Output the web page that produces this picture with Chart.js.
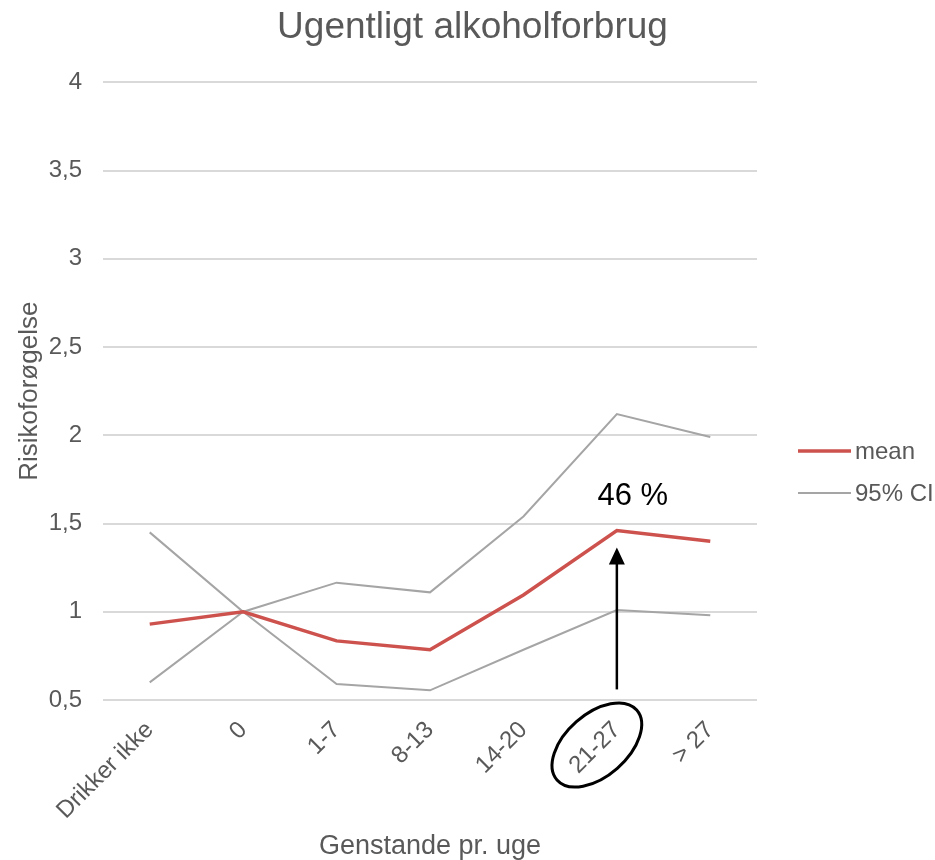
<!DOCTYPE html>
<html>
<head>
<meta charset="utf-8">
<script src="https://cdn.jsdelivr.net/npm/chart.js@4/dist/chart.umd.min.js"></script>
<style>
  body { margin: 0; background: #fff; }
  #wrap { width: 935px; height: 860px; }
</style>
</head>
<body>
<div id="wrap"><canvas id="myChart" width="935" height="860"></canvas></div>
<script>
const categories = ['Drikker ikke', '0', '1-7', '8-13', '14-20', '21-27', '> 27'];
const meanValues = [0.93, 1.0, 0.835, 0.785, 1.095, 1.46, 1.40];
const ciUpper = [1.45, 1.0, 1.165, 1.11, 1.54, 2.12, 1.99];
const ciLower = [0.60, 1.0, 0.59, 0.555, 0.785, 1.01, 0.98];
const yTicks = [0.5, 1, 1.5, 2, 2.5, 3, 3.5, 4];
const legendNames = ['mean', '95% CI'];

// annotation: arrow + circled label at "21-27"
const markIndex = 5;
const markText = '46 %';
const arrowBase = 0.56;

const textGrey = '#595959';
const font = '"Liberation Sans", Arial, sans-serif';

const annotate = {
    id: 'annotate',
    afterDraw(chart) {
        const ctx = chart.ctx;
        const area = chart.chartArea;
        const x = chart.scales.x.getPixelForValue(markIndex);
        const yMean = chart.scales.y.getPixelForValue(meanValues[markIndex]);
        const yBase = chart.scales.y.getPixelForValue(arrowBase);
        const tip = yMean + 17;
        ctx.save();
        // arrow
        ctx.strokeStyle = '#000';
        ctx.fillStyle = '#000';
        ctx.lineWidth = 2.5;
        ctx.beginPath();
        ctx.moveTo(x, yBase);
        ctx.lineTo(x, tip + 14);
        ctx.stroke();
        ctx.beginPath();
        ctx.moveTo(x, tip);
        ctx.lineTo(x - 8, tip + 17);
        ctx.lineTo(x + 8, tip + 17);
        ctx.closePath();
        ctx.fill();
        // label
        ctx.font = '31px ' + font;
        ctx.textAlign = 'center';
        ctx.textBaseline = 'middle';
        ctx.fillText(markText, x + 16, yMean - 34);
        // ellipse round tick label
        ctx.lineWidth = 3;
        ctx.beginPath();
        ctx.ellipse(x - 20, area.bottom + 45, 53, 31, -0.72, 0, Math.PI * 2);
        ctx.stroke();

        // legend (one entry per name, from the datasets)
        ctx.font = '24px ' + font;
        ctx.textAlign = 'left';
        legendNames.forEach((name, i) => {
            const ds = chart.data.datasets.find(d => d.label.startsWith(name));
            const ly = 451 + i * 42;
            ctx.strokeStyle = ds.borderColor;
            ctx.lineWidth = ds.borderWidth;
            ctx.beginPath();
            ctx.moveTo(area.right + 41, ly);
            ctx.lineTo(area.right + 94, ly);
            ctx.stroke();
            ctx.fillStyle = textGrey;
            ctx.fillText(name, area.right + 98, ly + 1);
        });
        ctx.restore();
    }
};

const ctx = document.getElementById('myChart');
const myChart = new Chart(ctx, {
    type: 'line',
    data: {
        labels: categories,
        datasets: [{
            label: 'mean',
            data: meanValues,
            borderColor: 'rgb(205, 82, 78)',
            backgroundColor: 'rgb(205, 82, 78)',
            borderWidth: 3.5,
            pointRadius: 0,
            tension: 0
        }, {
            label: '95% CI',
            data: ciUpper,
            borderColor: '#a5a5a5',
            backgroundColor: '#a5a5a5',
            borderWidth: 2,
            pointRadius: 0,
            tension: 0
        }, {
            label: '95% CI lower',
            data: ciLower,
            borderColor: '#a5a5a5',
            backgroundColor: '#a5a5a5',
            borderWidth: 2,
            pointRadius: 0,
            tension: 0
        }]
    },
    options: {
        responsive: false,
        animation: false,
        layout: {
            padding: { left: 10, right: 0, top: 0, bottom: 0 }
        },
        plugins: {
            title: {
                display: true,
                text: 'Ugentligt alkoholforbrug',
                color: textGrey,
                font: { family: font, size: 37, weight: 'normal' },
                padding: { top: 6, bottom: 32 }
            },
            legend: { display: false },
            tooltip: { enabled: false }
        },
        scales: {
            x: {
                offset: true,
                grid: { display: false },
                border: { display: false },
                afterFit: (axis) => { axis.paddingLeft = 0; },
                ticks: {
                    color: textGrey,
                    font: { family: font, size: 24 },
                    minRotation: 45,
                    maxRotation: 45,
                    padding: 8
                },
                title: {
                    display: true,
                    text: 'Genstande pr. uge',
                    color: textGrey,
                    font: { family: font, size: 27, lineHeight: 1 },
                    padding: { top: 0, bottom: 0 }
                }
            },
            y: {
                min: 0.5,
                max: 4,
                afterBuildTicks: (axis) => { axis.ticks = yTicks.map(v => ({ value: v })); },
                afterFit: (axis) => { axis.width = 93; },
                grid: { color: '#d9d9d9', lineWidth: 2, drawTicks: false },
                border: { display: false },
                ticks: {
                    color: textGrey,
                    font: { family: font, size: 24 },
                    padding: 21,
                    callback: (v) => String(v).replace('.', ',')
                },
                title: {
                    display: true,
                    text: 'Risikoforøgelse',
                    color: textGrey,
                    font: { family: font, size: 26 },
                    padding: 4
                }
            },
            // empty axis on the right only keeps room for the legend
            legendSpace: {
                type: 'linear',
                position: 'right',
                grid: { display: false },
                border: { display: false },
                ticks: { display: false },
                afterFit: (axis) => { axis.width = 178; }
            }
        }
    },
    plugins: [annotate]
});
</script>
</body>
</html>
